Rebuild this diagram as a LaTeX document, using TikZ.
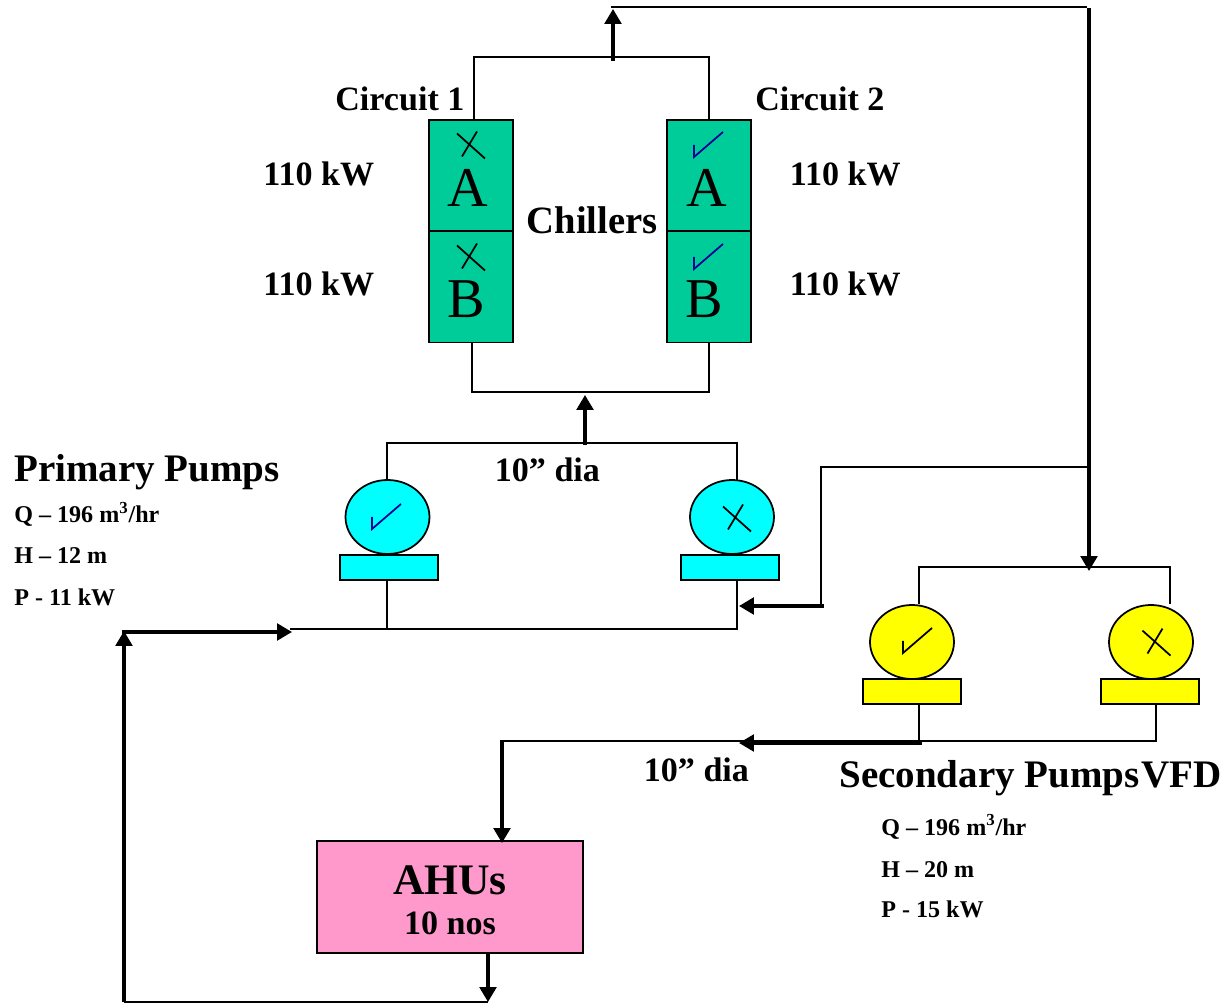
\documentclass[tikz,border=0pt]{standalone}
\usepackage{fontspec}
\setmainfont{Liberation Serif}
\usetikzlibrary{arrows.meta,shapes.geometric}
\definecolor{chillergreen}{HTML}{00CC99}
\definecolor{pumpcyan}{HTML}{00FFFF}
\definecolor{pumpyellow}{HTML}{FFFF00}
\definecolor{ahupink}{HTML}{FF99CC}
\definecolor{tickblue}{HTML}{000099}
\tikzset{
  pipe/.style={draw=black,line width=1pt},
  flow/.style={draw=black,line width=1.8pt,-{Triangle[length=8.5pt,width=9.5pt]}},
  chillerbox/.style={draw=black,line width=1.1pt,fill=chillergreen,minimum width=1.68cm,minimum height=2.22cm,inner sep=0pt},
  pumpbody/.style={draw=black,line width=1pt,ellipse,minimum width=1.68cm,minimum height=1.48cm,inner sep=0pt},
  pumpbase/.style={draw=black,line width=1pt,minimum width=1.96cm,minimum height=0.5cm,inner sep=0pt},
  ahubox/.style={draw=black,line width=1pt,fill=ahupink,minimum width=5.32cm,minimum height=2.24cm,inner sep=0pt},
  bigletter/.style={anchor=base,inner sep=0pt,font=\fontsize{32}{32}\selectfont},
  headlabel/.style={anchor=base west,inner sep=0pt,font=\fontsize{22.2}{22.2}\selectfont\bfseries},
  ratelabel/.style={anchor=base west,inner sep=0pt,font=\fontsize{19.4}{19.4}\selectfont\bfseries},
  smalllabel/.style={anchor=base west,inner sep=0pt,font=\fontsize{13.7}{13.7}\selectfont\bfseries},
  crossmark/.pic={\draw[line width=1pt] (-14,-12) -- (14,13) (-9,11) -- (6,-14);},
  tickmark/.pic={\draw[line width=1pt,pic actions] (0,-12) -- (0,0) -- (29,-25);}
}
\begin{document}
\begin{tikzpicture}[x=0.02cm,y=-0.02cm]
  \useasboundingbox (0,0) rectangle (1225,1003);
  % chillers
  \node[chillerbox] (c1a) at (471,175.5) {};
  \node[chillerbox] (c1b) at (471,287) {};
  \node[chillerbox] (c2a) at (709,175.5) {};
  \node[chillerbox] (c2b) at (709,287) {};
  \node[bigletter] (la1) at (468,207) {A};
  \node[bigletter] (lb1) at (466,318) {B};
  \node[bigletter] (la2) at (707,207) {A};
  \node[bigletter] (lb2) at (704,318) {B};
  \pic at (471,145.5) {crossmark};
  \pic at (471,257.5) {crossmark};
  \pic[draw=tickblue] at (694,157) {tickmark};
  \pic[draw=tickblue] at (694,269) {tickmark};
  % primary pumps
  \node[pumpbody,fill=pumpcyan] (pp1) at (387.5,517) {};
  \node[pumpbody,fill=pumpcyan] (pp2) at (732,517) {};
  \node[pumpbase,fill=pumpcyan] (pb1) at (389,567.5) {};
  \node[pumpbase,fill=pumpcyan] (pb2) at (730,567.5) {};
  \pic[draw=tickblue] at (372,529) {tickmark};
  \pic at (737,518.5) {crossmark};
  % secondary pumps
  \node[pumpbody,fill=pumpyellow] (sp1) at (912,642) {};
  \node[pumpbody,fill=pumpyellow] (sp2) at (1151,642) {};
  \node[pumpbase,fill=pumpyellow] (sb1) at (912,691.5) {};
  \node[pumpbase,fill=pumpyellow] (sb2) at (1150,691.5) {};
  \pic at (903,653) {tickmark};
  \pic at (1156.5,642.6) {crossmark};
  % ahu
  \node[ahubox] (ahu) at (450,897) {};
  \node[anchor=base,inner sep=0pt,font=\fontsize{24.8}{24.8}\selectfont\bfseries] (ahut) at (450,894) {AHUs};
  \node[anchor=base,inner sep=0pt,font=\fontsize{19.4}{19.4}\selectfont\bfseries] (ahun) at (450,934) {10 nos};
  % labels
  \node[ratelabel] (cir1) at (335,111) {Circuit 1};
  \node[ratelabel] (cir2) at (755,111) {Circuit 2};
  \node[ratelabel] (kw1) at (263,186) {110 kW};
  \node[ratelabel] (kw2) at (263,296) {110 kW};
  \node[ratelabel] (kw3) at (789.5,186) {110 kW};
  \node[ratelabel] (kw4) at (789.5,296) {110 kW};
  \node[headlabel,font=\fontsize{22}{22}\selectfont\bfseries] (chl) at (526.5,233.5) {Chillers};
  \node[ratelabel] (dia1) at (494.5,482) {10” dia};
  \node[ratelabel] (dia2) at (643.5,781.5) {10” dia};
  \node[headlabel] (ptitle) at (14,482) {Primary Pumps};
  \node[smalllabel] (pq) at (14,523) {Q – 196 m\textsuperscript{3}/hr};
  \node[smalllabel] (ph) at (14,564) {H – 12 m};
  \node[smalllabel] (pp) at (14,606) {P - 11 kW};
  \node[headlabel] (stitle) at (839,787.5) {Secondary Pumps};
  \node[headlabel] (vfd) at (1141,787.5) {VFD};
  \node[smalllabel] (sq) at (881,835) {Q – 196 m\textsuperscript{3}/hr};
  \node[smalllabel] (sh) at (881,877) {H – 20 m};
  \node[smalllabel] (sp) at (881,917) {P - 15 kW};
  % junctions
  \coordinate (t1) at (474,120);
  \coordinate (t2) at (474,57);
  \coordinate (t3) at (709,57);
  \coordinate (t4) at (709,120);
  \coordinate (b1) at (472,343);
  \coordinate (b2) at (472,392);
  \coordinate (b3) at (709,392);
  \coordinate (b4) at (709,343);
  \coordinate (up1) at (613,61);
  \coordinate (up2) at (613,9);
  \coordinate (top1) at (611,7);
  \coordinate (top2) at (1087,7);
  \coordinate (dn1) at (1089,8);
  \coordinate (dn2) at (1089,571);
  \coordinate (h1) at (387,480);
  \coordinate (h2) at (387,443);
  \coordinate (h3) at (737,443);
  \coordinate (h4) at (737,480);
  \coordinate (up3) at (585,445);
  \coordinate (up4) at (585,395);
  \coordinate (r1) at (387,580);
  \coordinate (r2) at (387,629);
  \coordinate (r3) at (737,580);
  \coordinate (r4) at (737,629);
  \coordinate (r5) at (290,629);
  \coordinate (by1) at (1087,467);
  \coordinate (by2) at (821,467);
  \coordinate (by3) at (821,606);
  \coordinate (by4) at (824,606);
  \coordinate (by5) at (739,606);
  \coordinate (s1) at (919,604);
  \coordinate (s2) at (919,567);
  \coordinate (s3) at (1170,567);
  \coordinate (s4) at (1170,604);
  \coordinate (d1) at (919,704);
  \coordinate (d2) at (919,741);
  \coordinate (d3) at (1156,741);
  \coordinate (d4) at (1156,704);
  \coordinate (o1) at (922,743);
  \coordinate (o2) at (739,743);
  \coordinate (o3) at (920,741);
  \coordinate (o4) at (500,741);
  \coordinate (o5) at (502,741);
  \coordinate (o6) at (502,843);
  \coordinate (a1) at (488,953);
  \coordinate (a2) at (488,1002);
  \coordinate (a3) at (124,1002);
  \coordinate (a4) at (124,631);
  \coordinate (a5) at (122,632);
  \coordinate (a6) at (292,632);
  % pipes
  \begin{scope}
    \draw[pipe] (t1) -- (t2) -- (t3) -- (t4);
    \draw[pipe] (b1) -- (b2) -- (b3) -- (b4);
    \draw[pipe] (top1) -- (top2);
    \draw[pipe] (h1) -- (h2) -- (h3) -- (h4);
    \draw[pipe] (r1) -- (r2);
    \draw[pipe] (r3) -- (r4) -- (r5);
    \draw[pipe] (by1) -- (by2) -- (by3);
    \draw[pipe] (s1) -- (s2) -- (s3) -- (s4);
    \draw[pipe] (d1) -- (d2) -- (d3) -- (d4);
    \draw[pipe] (o3) -- (o4);
    \draw[pipe] (a2) -- (a3);
  \end{scope}
  % flow arrows
  \begin{scope}
    \draw[flow] (up1) -- (up2);
    \draw[flow] (dn1) -- (dn2);
    \draw[flow] (up3) -- (up4);
    \draw[flow] (by4) -- (by5);
    \draw[flow] (o1) -- (o2);
    \draw[flow] (o5) -- (o6);
    \draw[flow] (a1) -- (a2);
    \draw[flow] (a3) -- (a4);
    \draw[flow] (a5) -- (a6);
  \end{scope}
\end{tikzpicture}
\end{document}
